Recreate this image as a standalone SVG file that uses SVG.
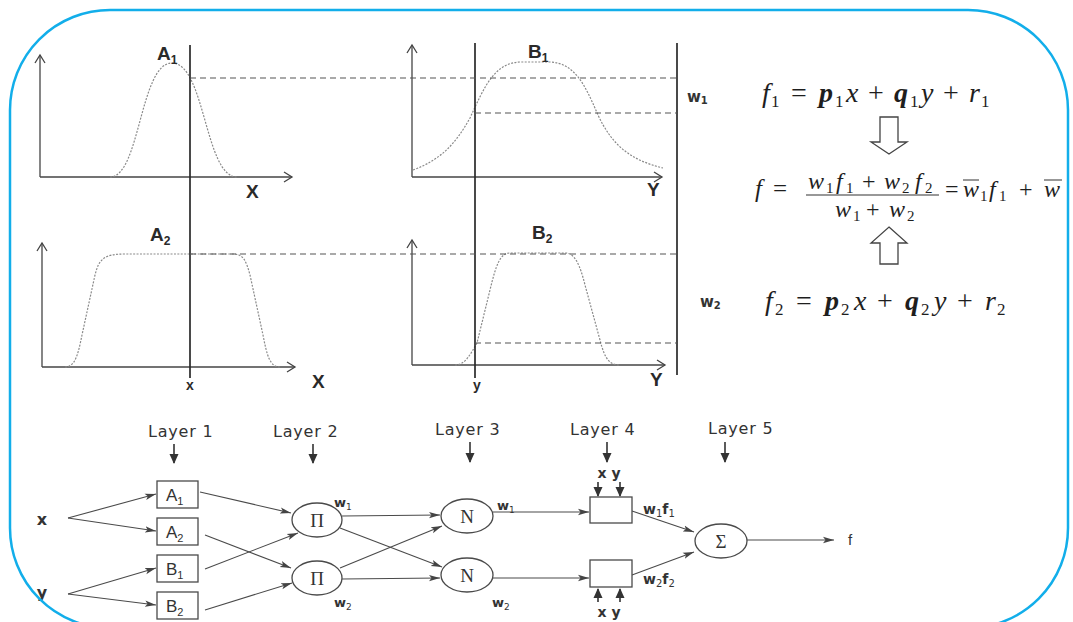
<svg xmlns="http://www.w3.org/2000/svg" width="1073" height="622" viewBox="0 0 1073 622">
<defs>
<style>
.ax{stroke:#444;stroke-width:1.3;fill:none}
.vl{stroke:#2a2a2a;stroke-width:1.7;fill:none}
.mf{stroke:#8a8a8a;stroke-width:1.2;stroke-dasharray:2 1.4;fill:none}
.dash{stroke:#555;stroke-width:1.1;stroke-dasharray:6 4;fill:none}
.lbl{font-family:"Liberation Sans",Arial,sans-serif;font-weight:bold;fill:#2a2a2a}
.wl{font-family:"DejaVu Sans",Verdana,sans-serif;font-weight:bold;fill:#333}
.txt{font-family:"Liberation Sans",Arial,sans-serif;fill:#333}
.lay{font-family:"DejaVu Sans",Verdana,sans-serif;font-size:16px;letter-spacing:0.8px;fill:#333}
.eq{font-family:"Liberation Serif","Times New Roman",serif;fill:#1e1e1e}
.it{font-style:italic}
.b{font-weight:bold}
.edge{stroke:#4a4a4a;stroke-width:1.1;fill:none;marker-end:url(#ah)}
.ldown{stroke:#333;stroke-width:1.6;fill:none;marker-end:url(#ah2)}
.node{fill:#fff;stroke:#4a4a4a;stroke-width:1.3}
.sym{font-family:"Liberation Serif","Times New Roman",serif;font-size:19px;fill:#333;text-anchor:middle}
.hollow{fill:#fff;stroke:#444;stroke-width:1.3}
</style>
<marker id="ah" markerUnits="userSpaceOnUse" markerWidth="12" markerHeight="8" refX="11" refY="4" orient="auto"><path d="M0,0.8 L11,4 L0,7.2 L2.5,4 z" fill="#444"/></marker>
<marker id="ah2" markerUnits="userSpaceOnUse" markerWidth="12" markerHeight="10" refX="9" refY="5" orient="auto"><path d="M0,0.5 L10,5 L0,9.5 z" fill="#333"/></marker>
<marker id="open" markerUnits="userSpaceOnUse" markerWidth="12" markerHeight="12" refX="9" refY="6" orient="auto"><path d="M1,1 L9,6 L1,11" fill="none" stroke="#444" stroke-width="1.3"/></marker>
<clipPath id="frameclip"><rect x="10" y="10" width="1057" height="618" rx="100"/></clipPath>
</defs>
<rect width="1073" height="622" fill="#fff"/>

<g id="plots">
  <!-- A1 -->
  <line class="ax" x1="40" y1="177" x2="40" y2="55" marker-end="url(#open)"/>
  <line class="ax" x1="40" y1="177" x2="292" y2="177" marker-end="url(#open)"/>
  <path class="mf" d="M110,177 C140,177 140,63 172,63 C205,63 205,177 237,177"/>
  <text class="lbl" x="157" y="60" font-size="19">A<tspan font-size="12" dy="4">1</tspan></text>
  <text class="lbl" x="246" y="198" font-size="19">X</text>
  <!-- A2 -->
  <line class="ax" x1="42" y1="367" x2="42" y2="243" marker-end="url(#open)"/>
  <line class="ax" x1="42" y1="367" x2="295" y2="367" marker-end="url(#open)"/>
  <path class="mf" d="M65,367 C75,367 78,355 82,335 L95,275 C99,259 104,254 125,254 L233,254 C243,254 246,260 250,275 L263,335 C267,356 270,367 280,367"/>
  <text class="lbl" x="150" y="241" font-size="19">A<tspan font-size="12" dy="4">2</tspan></text>
  <text class="lbl" x="312" y="388" font-size="19">X</text>
  <text class="lbl" x="190" y="390" font-size="14" text-anchor="middle">x</text>
  <!-- B1 -->
  <line class="ax" x1="412" y1="177" x2="412" y2="45" marker-end="url(#open)"/>
  <line class="ax" x1="412" y1="177" x2="662" y2="177" marker-end="url(#open)"/>
  <path class="mf" d="M413,170 C440,160 455,145 470,118 C485,85 495,63 520,62 L550,62 C575,63 585,85 598,115 C612,145 630,160 663,168"/>
  <text class="lbl" x="528" y="58" font-size="19">B<tspan font-size="12" dy="4">1</tspan></text>
  <text class="lbl" x="647" y="196" font-size="19">Y</text>
  <!-- B2 -->
  <line class="ax" x1="412" y1="365" x2="412" y2="240" marker-end="url(#open)"/>
  <line class="ax" x1="412" y1="365" x2="665" y2="365" marker-end="url(#open)"/>
  <path class="mf" d="M455,365 C465,365 470,355 477,343 L490,290 C496,265 500,253 510,253 L565,253 C575,253 580,265 585,285 L600,340 C605,360 610,365 620,365"/>
  <text class="lbl" x="532" y="239" font-size="19">B<tspan font-size="12" dy="4">2</tspan></text>
  <text class="lbl" x="650" y="386" font-size="19">Y</text>
  <text class="lbl" x="477" y="390" font-size="14" text-anchor="middle">y</text>
  <!-- vertical lines -->
  <line class="vl" x1="190" y1="45" x2="190" y2="378"/>
  <line class="vl" x1="475" y1="43" x2="475" y2="378"/>
  <line class="vl" x1="677" y1="43" x2="677" y2="375"/>
  <!-- dashed levels -->
  <line class="dash" x1="190" y1="78" x2="677" y2="78"/>
  <line class="dash" x1="475" y1="113" x2="677" y2="113"/>
  <line class="dash" x1="190" y1="254" x2="677" y2="254"/>
  <line class="dash" x1="475" y1="343" x2="677" y2="343"/>
  <text class="wl" x="687" y="102" font-size="15">w<tspan font-size="10" dy="2">1</tspan></text>
  <text class="wl" x="700" y="307" font-size="15">w<tspan font-size="10" dy="2">2</tspan></text>
</g>

<g id="equations">
  <text class="eq" font-size="28"><tspan class="it" x="762" y="102">f</tspan><tspan font-size="17" x="771" y="107">1</tspan><tspan x="791" y="102">=</tspan><tspan class="it b" x="819" y="102">p</tspan><tspan font-size="17" x="835" y="107">1</tspan><tspan class="it" x="846" y="102">x</tspan><tspan x="868" y="102">+</tspan><tspan class="it b" x="894" y="102">q</tspan><tspan font-size="17" x="910" y="107">1</tspan><tspan class="it" x="921" y="102">y</tspan><tspan x="943" y="102">+</tspan><tspan class="it" x="969" y="102">r</tspan><tspan font-size="17" x="981" y="107">1</tspan></text>
  <polygon class="hollow" points="880,117 898,117 898,142 907,142 889,154 871,142 880,142"/>
  <text class="eq" font-size="25"><tspan class="it" x="755" y="197">f</tspan><tspan x="773" y="197">=</tspan></text>
  <text class="eq" font-size="24"><tspan class="it" x="808" y="189">w</tspan><tspan font-size="15" x="826" y="193">1</tspan><tspan class="it" x="836" y="189">f</tspan><tspan font-size="15" x="846" y="193">1</tspan><tspan x="862" y="189">+</tspan><tspan class="it" x="884" y="189">w</tspan><tspan font-size="15" x="902" y="193">2</tspan><tspan class="it" x="915" y="189">f</tspan><tspan font-size="15" x="925" y="193">2</tspan></text>
  <line x1="806" y1="195" x2="939" y2="195" stroke="#333" stroke-width="1.2"/>
  <text class="eq" font-size="24"><tspan class="it" x="835" y="217">w</tspan><tspan font-size="15" x="853" y="221">1</tspan><tspan x="866" y="217">+</tspan><tspan class="it" x="889" y="217">w</tspan><tspan font-size="15" x="907" y="221">2</tspan></text>
  <g clip-path="url(#frameclip)">
    <text class="eq" font-size="24"><tspan x="945" y="197">=</tspan><tspan class="it" x="963" y="197">w</tspan><tspan font-size="15" x="980" y="201">1</tspan><tspan class="it" x="989" y="197">f</tspan><tspan font-size="15" x="999" y="201">1</tspan><tspan x="1019" y="197">+</tspan><tspan class="it" x="1044" y="197">w</tspan></text>
    <line x1="963" y1="180" x2="979" y2="180" stroke="#333" stroke-width="1.1"/>
    <line x1="1044" y1="180" x2="1062" y2="180" stroke="#333" stroke-width="1.1"/>
  </g>
  <polygon class="hollow" points="889,227 907,243 898,243 898,264 880,264 880,243 871,243"/>
  <text class="eq" font-size="28"><tspan class="it" x="765" y="310">f</tspan><tspan font-size="17" x="775" y="315">2</tspan><tspan x="796" y="310">=</tspan><tspan class="it b" x="825" y="310">p</tspan><tspan font-size="17" x="841" y="315">2</tspan><tspan class="it" x="854" y="310">x</tspan><tspan x="877" y="310">+</tspan><tspan class="it b" x="905" y="310">q</tspan><tspan font-size="17" x="921" y="315">2</tspan><tspan class="it" x="934" y="310">y</tspan><tspan x="957" y="310">+</tspan><tspan class="it" x="985" y="310">r</tspan><tspan font-size="17" x="997" y="315">2</tspan></text>
</g>

<g id="layer-labels" class="lay">
  <text x="148" y="437">Layer 1</text>
  <text x="273" y="437">Layer 2</text>
  <text x="435" y="435">Layer 3</text>
  <text x="570" y="435">Layer 4</text>
  <text x="708" y="434">Layer 5</text>
</g>

<g id="connectors">
  <line class="ldown" x1="174" y1="444" x2="174" y2="463"/>
  <line class="ldown" x1="313" y1="444" x2="313" y2="463"/>
  <line class="ldown" x1="470" y1="442" x2="470" y2="462"/>
  <line class="ldown" x1="607" y1="442" x2="607" y2="462"/>
  <line class="ldown" x1="725" y1="442" x2="725" y2="462"/>
  <line class="edge" x1="68" y1="518" x2="156" y2="494"/>
  <line class="edge" x1="68" y1="518" x2="156" y2="531"/>
  <line class="edge" x1="68" y1="594" x2="156" y2="568"/>
  <line class="edge" x1="68" y1="594" x2="156" y2="605"/>
  <line class="edge" x1="200" y1="492" x2="291" y2="513"/>
  <line class="edge" x1="205" y1="535" x2="291" y2="568"/>
  <line class="edge" x1="205" y1="569" x2="298" y2="533"/>
  <line class="edge" x1="205" y1="610" x2="292" y2="583"/>
  <line class="edge" x1="342" y1="516" x2="440" y2="515"/>
  <line class="edge" x1="340" y1="528" x2="442" y2="567"/>
  <line class="edge" x1="340" y1="568" x2="442" y2="526"/>
  <line class="edge" x1="342" y1="579" x2="440" y2="578"/>
  <line class="edge" x1="493" y1="512" x2="589" y2="512"/>
  <line class="edge" x1="493" y1="578" x2="589" y2="578"/>
  <line class="edge" x1="632" y1="511" x2="694" y2="532"/>
  <line class="edge" x1="632" y1="575" x2="694" y2="552"/>
  <line class="edge" x1="747" y1="540" x2="834" y2="540"/>
  <line class="ldown" x1="598" y1="482" x2="598" y2="496"/>
  <line class="ldown" x1="620" y1="482" x2="620" y2="496"/>
  <line class="ldown" x1="598" y1="602" x2="598" y2="589"/>
  <line class="ldown" x1="620" y1="602" x2="620" y2="589"/>
</g>

<g id="in-x"><text class="wl" x="42" y="525" font-size="16" text-anchor="middle">x</text></g>
<g id="in-y"><text class="wl" x="42" y="598" font-size="16" text-anchor="middle">y</text></g>
<g id="A1"><rect class="node" x="157" y="481" width="41" height="27"/><text class="txt" x="166" y="501" font-size="17">A<tspan font-size="11" dy="4">1</tspan></text></g>
<g id="A2"><rect class="node" x="157" y="518" width="41" height="27"/><text class="txt" x="166" y="538" font-size="17">A<tspan font-size="11" dy="4">2</tspan></text></g>
<g id="B1"><rect class="node" x="157" y="555" width="41" height="27"/><text class="txt" x="166" y="575" font-size="17">B<tspan font-size="11" dy="4">1</tspan></text></g>
<g id="B2"><rect class="node" x="157" y="592" width="41" height="27"/><text class="txt" x="166" y="612" font-size="17">B<tspan font-size="11" dy="4">2</tspan></text></g>
<g id="Pi1"><ellipse class="node" cx="317" cy="520" rx="25" ry="17"/><text class="sym" x="317" y="527">Π</text><text class="wl" x="334" y="507" font-size="13">w<tspan font-size="9" font-weight="normal" dy="3">1</tspan></text></g>
<g id="Pi2"><ellipse class="node" cx="317" cy="578" rx="25" ry="17"/><text class="sym" x="317" y="585">Π</text><text class="wl" x="334" y="607" font-size="13">w<tspan font-size="9" font-weight="normal" dy="3">2</tspan></text></g>
<g id="N1"><ellipse class="node" cx="467" cy="516" rx="26" ry="17"/><text class="sym" x="467" y="523">N</text><text class="wl" x="497" y="510" font-size="13">w<tspan font-size="9" font-weight="normal" dy="3">1</tspan></text></g>
<g id="N2"><ellipse class="node" cx="467" cy="575" rx="26" ry="17"/><text class="sym" x="467" y="582">N</text><text class="wl" x="492" y="607" font-size="13">w<tspan font-size="9" font-weight="normal" dy="3">2</tspan></text></g>
<g id="L4a"><rect class="node" x="590" y="497" width="42" height="26"/><text class="wl" x="609" y="478" font-size="14" text-anchor="middle">x y</text><text class="wl" x="643" y="514" font-size="14">w<tspan font-size="10" font-weight="normal" dy="3">1</tspan><tspan dy="-3">f</tspan><tspan font-size="10" font-weight="normal" dy="3">1</tspan></text></g>
<g id="L4b"><rect class="node" x="590" y="560" width="42" height="27"/><text class="wl" x="609" y="617" font-size="14" text-anchor="middle">x y</text><text class="wl" x="643" y="584" font-size="14">w<tspan font-size="10" font-weight="normal" dy="3">2</tspan><tspan dy="-3">f</tspan><tspan font-size="10" font-weight="normal" dy="3">2</tspan></text></g>
<g id="Sigma"><ellipse class="node" cx="721" cy="541" rx="26" ry="17"/><text class="sym" x="721" y="548">Σ</text></g>
<g id="out-f"><text class="txt" x="848" y="545" font-size="15">f</text></g>

<rect id="frame" x="10" y="10" width="1058" height="618" rx="100" fill="none" stroke="#12aeea" stroke-width="2.5"/>
</svg>
